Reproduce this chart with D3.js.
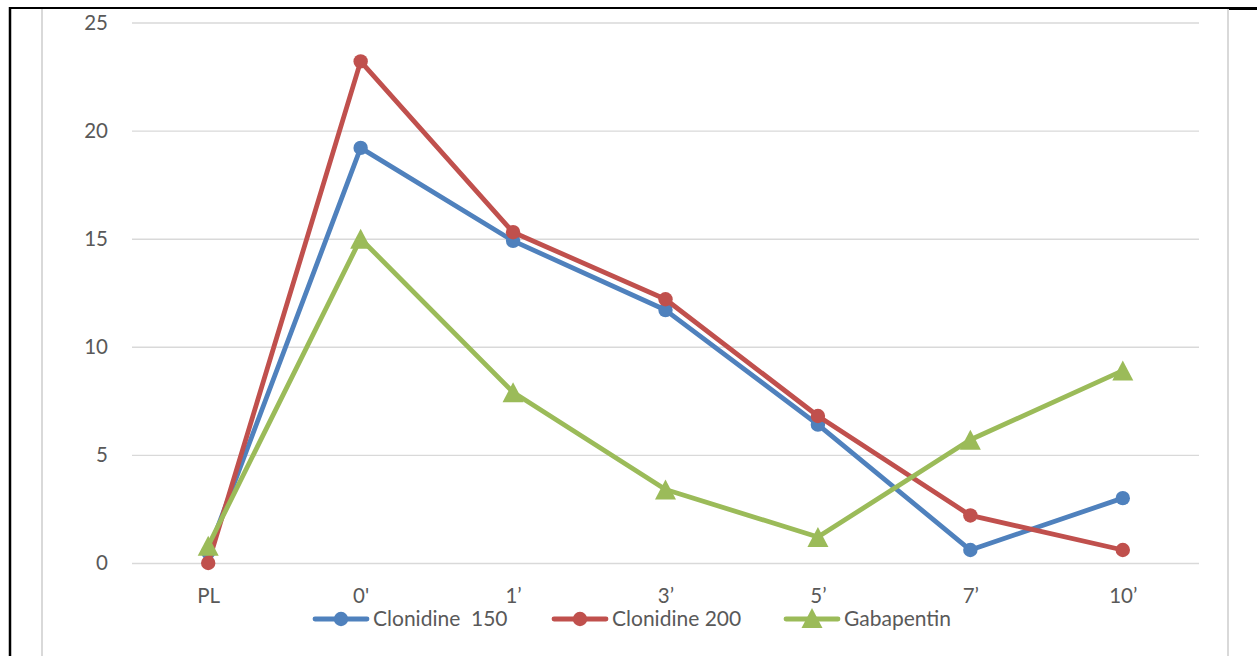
<!DOCTYPE html>
<html><head><meta charset="utf-8">
<script src="https://cdn.jsdelivr.net/npm/d3@7"></script>
<style>body{margin:0;background:#fff}svg{display:block}text{font-family:Lato,"Liberation Sans",sans-serif;fill:#595959}</style>
</head><body>
<script>
const categories = ["PL", "0'", "1’", "3’", "5’", "7’", "10’"];
const clonidine150 = [0.5, 19.2, 14.9, 11.7, 6.4, 0.6, 3.0];
const clonidine200 = [0.0, 23.2, 15.3, 12.2, 6.8, 2.2, 0.6];
const gabapentin = [0.8, 15.0, 7.9, 3.4, 1.2, 5.7, 8.9];
const yTicks = [0, 5, 10, 15, 20, 25];
const seriesNames = ["Clonidine  150", "Clonidine 200", "Gabapentin"];

const W = 1257, H = 656;
const svg = d3.select("body").append("svg").attr("width", W).attr("height", H);
svg.append("rect").attr("width", W).attr("height", H).attr("fill", "#fff");

// page borders
svg.append("line").attr("x1", 42).attr("x2", 42).attr("y1", 8).attr("y2", H).attr("stroke", "#d9d9d9").attr("stroke-width", 2);
svg.append("line").attr("x1", 1228).attr("x2", 1228).attr("y1", 8).attr("y2", H).attr("stroke", "#d9d9d9").attr("stroke-width", 2);
svg.append("line").attr("x1", 10).attr("x2", 10).attr("y1", 7).attr("y2", H).attr("stroke", "#000").attr("stroke-width", 2.5);
svg.append("line").attr("x1", 9).attr("x2", 1229).attr("y1", 8).attr("y2", 8).attr("stroke", "#000").attr("stroke-width", 2);
svg.append("line").attr("x1", 1229).attr("x2", W).attr("y1", 8.5).attr("y2", 8.5).attr("stroke", "#000").attr("stroke-width", 3);

const x = d3.scalePoint().domain(categories).range([132, 1199]).padding(0.5);
const y = d3.scaleLinear().domain([0, 25]).range([563, 22.5]);

// grid
const yAxis = d3.axisLeft(y).tickValues(yTicks).tickSize(-(1199 - 132)).tickPadding(24);
const gy = svg.append("g").attr("transform", "translate(132,0)").call(yAxis);
gy.select(".domain").remove();
gy.selectAll(".tick line").attr("stroke", "#d9d9d9").attr("stroke-width", 1.4);
gy.selectAll(".tick text").attr("font-size", 20.5).attr("fill", "#595959").attr("font-family", "Lato");

const xAxis = d3.axisBottom(x).tickSize(0).tickPadding(25);
const gx = svg.append("g").attr("transform", "translate(0,563)").call(xAxis);
gx.select(".domain").remove();
gx.selectAll(".tick text").attr("font-size", 20.5).attr("fill", "#595959").attr("font-family", "Lato");

const colors = ["#4F81BD", "#C0504D", "#9BBB59"];
const data = [clonidine150, clonidine200, gabapentin];
const line = d3.line().x((d, i) => x(categories[i])).y(d => y(d));
const tri = "M0,-10L10.5,10L-10.5,10Z";

data.forEach((vals, s) => {
  const g = svg.append("g");
  g.append("path").attr("d", line(vals)).attr("fill", "none").attr("stroke", colors[s])
    .attr("stroke-width", 4.8).attr("stroke-linejoin", "round").attr("stroke-linecap", "round");
  vals.forEach((v, i) => {
    if (s < 2) {
      g.append("circle").attr("cx", x(categories[i])).attr("cy", y(v)).attr("r", 7.2).attr("fill", colors[s]);
    } else {
      g.append("path").attr("d", tri).attr("transform", `translate(${x(categories[i])},${y(v)})`).attr("fill", colors[s]);
    }
  });
});

// legend
const legX = [313, 552, 784];
const legY = 619;
seriesNames.forEach((name, s) => {
  const g = svg.append("g").attr("transform", `translate(${legX[s]},${legY})`);
  g.append("line").attr("x1", 2).attr("x2", 54).attr("y1", 0).attr("y2", 0).attr("stroke", colors[s]).attr("stroke-width", 4.8).attr("stroke-linecap", "round");
  if (s < 2) g.append("circle").attr("cx", 28).attr("cy", 0).attr("r", 7.2).attr("fill", colors[s]);
  else g.append("path").attr("d", tri).attr("transform", "translate(28,-1)").attr("fill", colors[s]);
  g.append("text").attr("x", 60).attr("y", 0).attr("dy", "0.35em").attr("font-size", 21).text(name).attr("xml:space", "preserve");
});
</script>
</body></html>
